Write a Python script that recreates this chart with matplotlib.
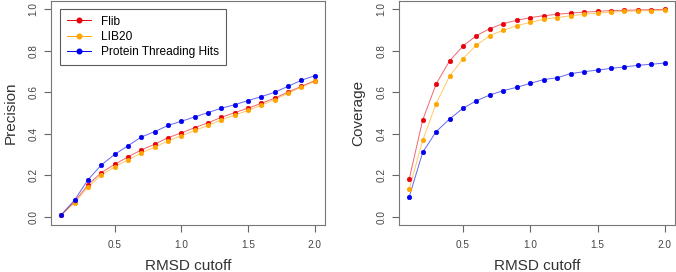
import matplotlib
matplotlib.use('Agg')
import matplotlib.pyplot as plt
import matplotlib.lines as mlines

# RMSD cutoffs
rmsd = [0.1, 0.2, 0.3, 0.4, 0.5, 0.6, 0.7, 0.8, 0.9, 1.0,
        1.1, 1.2, 1.3, 1.4, 1.5, 1.6, 1.7, 1.8, 1.9, 2.0]

series_names = ['Flib', 'LIB20', 'Protein Threading Hits']
series_colors = ['#E8000B', '#FFA500', '#0000EE']

# precision values
prec_flib = [0.008, 0.072, 0.153, 0.212, 0.252, 0.288, 0.322, 0.349, 0.381, 0.404,
             0.429, 0.453, 0.479, 0.502, 0.523, 0.547, 0.572, 0.601, 0.629, 0.656]
prec_lib20 = [0.008, 0.066, 0.143, 0.200, 0.240, 0.274, 0.307, 0.335, 0.366, 0.390,
              0.416, 0.440, 0.467, 0.490, 0.513, 0.538, 0.565, 0.595, 0.626, 0.652]
prec_pth = [0.008, 0.080, 0.177, 0.249, 0.300, 0.342, 0.384, 0.410, 0.440, 0.460,
            0.481, 0.502, 0.523, 0.540, 0.560, 0.579, 0.600, 0.629, 0.658, 0.680]

# coverage values
cov_flib = [0.182, 0.466, 0.640, 0.751, 0.823, 0.873, 0.907, 0.931, 0.947, 0.960,
            0.969, 0.976, 0.982, 0.986, 0.990, 0.994, 0.995, 0.997, 0.998, 1.000]
cov_lib20 = [0.133, 0.368, 0.545, 0.678, 0.762, 0.828, 0.873, 0.899, 0.921, 0.937,
             0.952, 0.960, 0.969, 0.976, 0.981, 0.987, 0.990, 0.992, 0.994, 0.995]
cov_pth = [0.096, 0.310, 0.410, 0.471, 0.523, 0.559, 0.587, 0.608, 0.624, 0.643,
           0.661, 0.670, 0.690, 0.699, 0.707, 0.715, 0.722, 0.730, 0.735, 0.741]

plt.rcParams['font.family'] = ['Liberation Sans', 'DejaVu Sans']

fig = plt.figure(figsize=(6.76, 2.72), dpi=100)
ax1 = fig.add_axes([51/676, 1-225/272, (325-51)/676, 224/272])
ax2 = fig.add_axes([399/676, 1-225/272, (675-399)/676, 224/272])

panels = [(ax1, [prec_flib, prec_lib20, prec_pth], 'Precision'),
          (ax2, [cov_flib, cov_lib20, cov_pth], 'Coverage')]

for ax, data, ylab in panels:
    for vals, name, col in zip(data, series_names, series_colors):
        ax.plot(rmsd, vals, color=col, lw=0.7, alpha=0.6, zorder=2)
        ax.plot(rmsd, vals, ls='none', marker='o', ms=3.3, color=col,
                mec=col, mew=0.4, zorder=3, label=name)
    ax.set_xlim(0.024, 2.076)
    ax.set_ylim(-0.04, 1.04)
    ax.set_xticks([0.5, 1.0, 1.5, 2.0])
    ax.set_yticks([0.0, 0.2, 0.4, 0.6, 0.8, 1.0])
    ax.set_xticklabels(['0.5', '1.0', '1.5', '2.0'])
    ax.set_yticklabels(['0.0', '0.2', '0.4', '0.6', '0.8', '1.0'],
                       rotation=90, va='center')
    ax.tick_params(direction='out', length=5, width=0.8, colors='#666666',
                   labelsize=7.2, labelcolor='#444444', pad=4)
    ax.tick_params(axis='x', pad=6)
    for sp in ax.spines.values():
        sp.set_color('#777777')
        sp.set_linewidth(0.8)
    ax.set_xlabel('RMSD cutoff', fontsize=11, color='#333333', labelpad=6)
    ax.set_ylabel(ylab, fontsize=11, color='#333333', labelpad=8)

# legend in the left panel, R style
handles = [mlines.Line2D([], [], color=c, lw=0.7, marker='o', ms=3.3, mec=c)
           for c in series_colors]
leg = ax1.legend(handles, series_names, loc='upper left', fontsize=8.6,
                 frameon=True, fancybox=False, edgecolor='#333333',
                 bbox_to_anchor=(0.033, 0.964), borderaxespad=0,
                 handlelength=2.0, borderpad=0.55, labelspacing=0.28,
                 handletextpad=0.9)
leg.get_frame().set_linewidth(0.8)

fig.savefig('out.png', dpi=100)
